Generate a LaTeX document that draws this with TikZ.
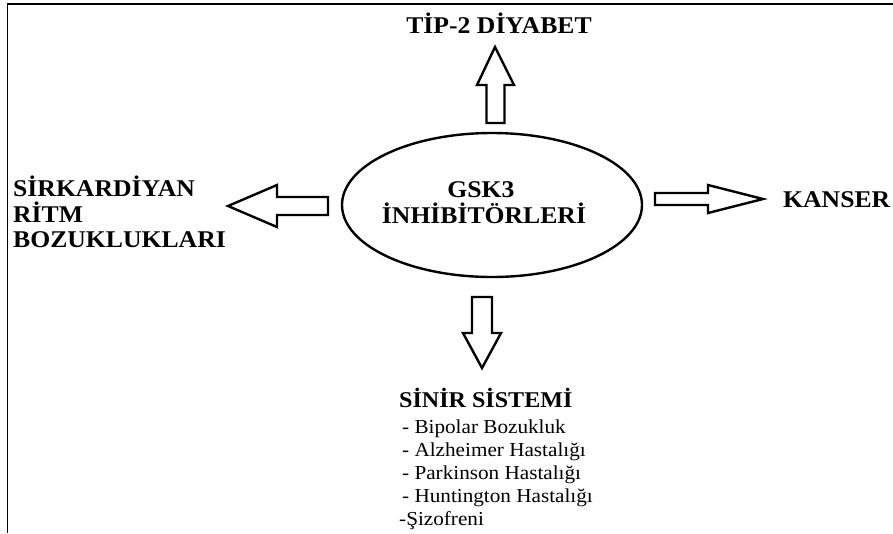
\documentclass[tikz,border=0pt]{standalone}
\usepackage{fontspec}
\setmainfont[FakeStretch=1.07]{Liberation Serif}
\usetikzlibrary{shapes.geometric}
\begin{document}
\begin{tikzpicture}[x=1pt,y=-1pt,
  blk/.style={draw=black,fill=white,line width=2.4pt,line join=miter},
  bigtxt/.style={inner sep=0pt,font=\fontsize{24}{26}\selectfont\bfseries},
  midtxt/.style={inner sep=0pt,font=\fontsize{22.5}{26}\selectfont\bfseries},
  smalltxt/.style={inner sep=0pt,font=\fontsize{19.8}{23}\selectfont},
  frame/.style={line width=1.5pt}]
\useasboundingbox (0,0) rectangle (893,533);
% frame
\draw[frame] (7.5,533) -- (7.5,4) -- (893,4);
% ellipse
\node[draw,line width=2.4pt,ellipse,minimum width=300pt,minimum height=144pt,inner sep=0pt] (c) at (492,205) {};
\node[bigtxt,anchor=base] (g1) at (481,197) {GSK3};
\node[bigtxt,anchor=base] (g2) at (484,223) {İNHİBİTÖRLERİ};
% up arrow
\draw[blk] (495,47) -- (514,85) -- (504.5,85) -- (504.5,123) -- (486.5,123) -- (486.5,85) -- (477,85) -- cycle;
% left arrow
\draw[blk] (228,206) -- (277,185) -- (277,197) -- (328,197) -- (328,215) -- (277,215) -- (277,227) -- cycle;
% right arrow
\draw[blk] (763,199) -- (708,213) -- (708,205) -- (655,205) -- (655,193) -- (708,193) -- (708,185) -- cycle;
% down arrow
\draw[blk] (482,368) -- (463,333) -- (472,333) -- (472,297) -- (492,297) -- (492,333) -- (501,333) -- cycle;
% labels
\node[bigtxt,anchor=base] (t) at (499,33) {TİP-2 DİYABET};
\node[bigtxt,anchor=base west] (k) at (783,207) {KANSER};
\node[bigtxt,anchor=base west] (s1) at (13,196) {SİRKARDİYAN};
\node[bigtxt,anchor=base west] (s2) at (13,222) {RİTM};
\node[bigtxt,anchor=base west] (s3) at (13,247) {BOZUKLUKLARI};
\node[midtxt,anchor=base west] (n0) at (399,407) {SİNİR SİSTEMİ};
\node[smalltxt,anchor=base west] (n1) at (402,433) {- Bipolar Bozukluk};
\node[smalltxt,anchor=base west] (n2) at (402,456) {- Alzheimer Hastalığı};
\node[smalltxt,anchor=base west] (n3) at (402,479) {- Parkinson Hastalığı};
\node[smalltxt,anchor=base west] (n4) at (402,502) {- Huntington Hastalığı};
\node[smalltxt,anchor=base west] (n5) at (399,525) {-Şizofreni};
\end{tikzpicture}
\end{document}
